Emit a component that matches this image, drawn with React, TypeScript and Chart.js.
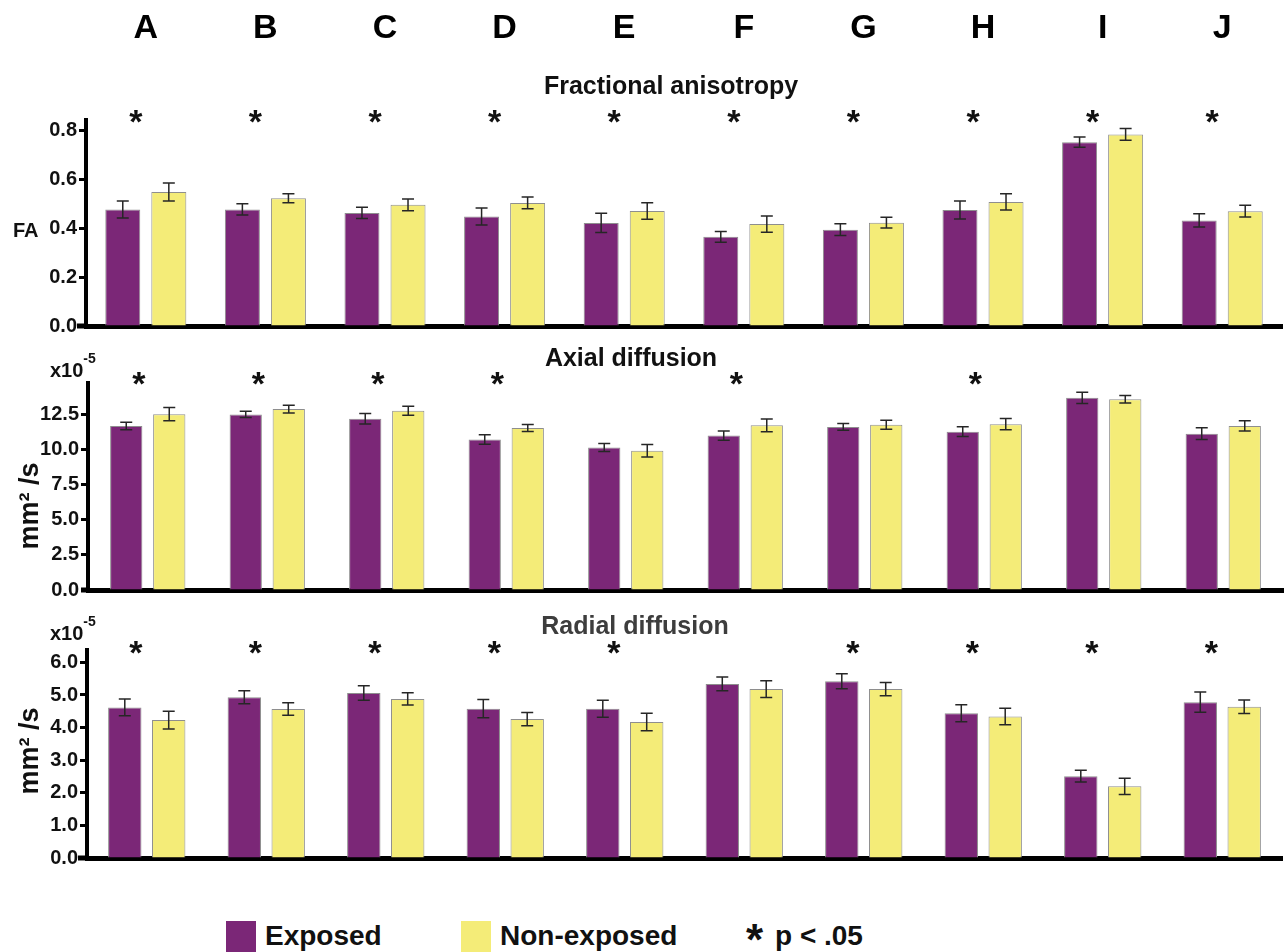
import React, { useEffect, useRef } from 'react';
import { Chart, registerables } from 'chart.js';

Chart.register(...registerables);

// ---------- data ----------
const categories = ['A', 'B', 'C', 'D', 'E', 'F', 'G', 'H', 'I', 'J'];

const faExposed = [0.478, 0.478, 0.464, 0.449, 0.423, 0.366, 0.395, 0.476, 0.754, 0.433];
const faExposedErr = [0.035, 0.023, 0.023, 0.035, 0.039, 0.022, 0.024, 0.037, 0.021, 0.027];
const faNonExposed = [0.55, 0.524, 0.497, 0.505, 0.472, 0.418, 0.424, 0.509, 0.786, 0.471];
const faNonExposedErr = [0.037, 0.018, 0.024, 0.024, 0.034, 0.033, 0.022, 0.033, 0.024, 0.024];
const faSig = [true, true, true, true, true, true, true, true, true, true];

const adExposed = [11.7, 12.52, 12.21, 10.73, 10.16, 11.01, 11.63, 11.29, 13.7, 11.15];
const adExposedErr = [0.27, 0.22, 0.38, 0.34, 0.28, 0.33, 0.24, 0.35, 0.4, 0.42];
const adNonExposed = [12.54, 12.9, 12.78, 11.55, 9.93, 11.74, 11.79, 11.82, 13.6, 11.7];
const adNonExposedErr = [0.48, 0.28, 0.32, 0.25, 0.45, 0.45, 0.32, 0.4, 0.26, 0.36];
const adSig = [true, true, true, true, false, true, false, true, false, false];

const rdExposed = [4.62, 4.93, 5.06, 4.58, 4.58, 5.34, 5.42, 4.44, 2.51, 4.78];
const rdExposedErr = [0.26, 0.2, 0.22, 0.28, 0.26, 0.21, 0.23, 0.26, 0.18, 0.31];
const rdNonExposed = [4.23, 4.57, 4.88, 4.26, 4.17, 5.18, 5.18, 4.34, 2.2, 4.64];
const rdNonExposedErr = [0.27, 0.19, 0.19, 0.2, 0.27, 0.26, 0.2, 0.25, 0.25, 0.21];
const rdSig = [true, true, true, true, true, false, true, true, true, true];

const seriesNames = ['Exposed', 'Non-exposed'];
const sigLabel = 'p < .05';

// ---------- style ----------
const FONT = '"Liberation Sans", Arial, Helvetica, sans-serif';
const PURPLE = '#7b2777';
const YELLOW = '#f4ec78';
const BAR_BORDER = '#8e8e8e';

const errorBarPlugin = {
  id: 'errorBars',
  afterDatasetsDraw(chart: any) {
    const ctx = chart.ctx;
    const yScale = chart.scales.y;
    const cap = 12;
    chart.data.datasets.forEach((ds: any, di: number) => {
      const errs = ds.errors;
      if (!errs) return;
      const meta = chart.getDatasetMeta(di);
      meta.data.forEach((bar: any, i: number) => {
        const v = ds.data[i];
        const e = errs[i];
        const x = bar.x;
        const yt = yScale.getPixelForValue(v + e);
        const yb = yScale.getPixelForValue(v - e);
        ctx.save();
        ctx.strokeStyle = '#262626';
        ctx.lineWidth = 1.5;
        ctx.beginPath();
        ctx.moveTo(x, yt);
        ctx.lineTo(x, yb);
        ctx.moveTo(x - cap / 2, yt);
        ctx.lineTo(x + cap / 2, yt);
        ctx.moveTo(x - cap / 2, yb);
        ctx.lineTo(x + cap / 2, yb);
        ctx.stroke();
        ctx.restore();
      });
    });
  },
};

const decorPlugin = {
  id: 'decor',
  afterDraw(chart: any, _args: any, opts: any) {
    const ctx = chart.ctx;
    const area = chart.chartArea;
    const xs = chart.scales.x;
    ctx.save();
    // extend x axis line to the left
    if (opts.axisLeft != null) {
      ctx.fillStyle = '#000';
      ctx.fillRect(opts.axisLeft, area.bottom - 2.5, area.left - opts.axisLeft, 5);
    }
    // title
    if (opts.title) {
      ctx.font = `bold 25px ${FONT}`;
      ctx.fillStyle = opts.title.color || '#111';
      ctx.textAlign = 'center';
      ctx.textBaseline = 'alphabetic';
      ctx.fillText(opts.title.text, opts.title.x, opts.title.y);
    }
    // significance stars
    if (opts.stars) {
      ctx.font = `bold 34px ${FONT}`;
      ctx.fillStyle = '#111';
      ctx.textAlign = 'center';
      ctx.textBaseline = 'alphabetic';
      const m = ctx.measureText('*');
      const asc = m.actualBoundingBoxAscent;
      const desc = m.actualBoundingBoxDescent;
      const base = opts.starY + (asc - desc) / 2;
      opts.stars.forEach((s: boolean, i: number) => {
        if (!s) return;
        ctx.fillText('*', xs.getPixelForValue(i) + opts.starDx, base);
      });
    }
    // FA label
    if (opts.faLabel) {
      ctx.font = `bold 20px ${FONT}`;
      ctx.fillStyle = '#111';
      ctx.textAlign = 'left';
      ctx.textBaseline = 'alphabetic';
      ctx.fillText(opts.faLabel.text, opts.faLabel.x, opts.faLabel.y);
    }
    // exponent
    if (opts.exponent) {
      ctx.fillStyle = '#111';
      ctx.textAlign = 'left';
      ctx.textBaseline = 'alphabetic';
      ctx.font = `bold 20px ${FONT}`;
      ctx.fillText('x10', opts.exponent.x, opts.exponent.y);
      const w = ctx.measureText('x10').width;
      ctx.font = `bold 14px ${FONT}`;
      ctx.fillText('-5', opts.exponent.x + w, opts.exponent.y - 14);
    }
    // rotated unit label
    if (opts.unit) {
      ctx.translate(opts.unit.x, opts.unit.y);
      ctx.rotate(-Math.PI / 2);
      ctx.font = `bold 27px ${FONT}`;
      ctx.fillStyle = '#111';
      ctx.textAlign = 'center';
      ctx.textBaseline = 'alphabetic';
      ctx.fillText(opts.unit.text, 0, 0);
    }
    ctx.restore();
  },
};

interface PanelSpec {
  top: number;
  height: number;
  padTop: number;
  left: number;
  right: number;
  bottomH: number;
  yMax: number;
  step: number;
  exposed: number[];
  exposedErr: number[];
  nonExposed: number[];
  nonExposedErr: number[];
  catPct: number;
  barPct: number;
  letters: boolean;
  decor: any;
}

function BarPanel({ p }: { p: PanelSpec }) {
  const ref = useRef<HTMLCanvasElement>(null);
  useEffect(() => {
    if (!ref.current) return;
    const scales: any = {
      x: {
        type: 'category',
        position: 'bottom',
        offset: true,
        z: 1,
        grid: { display: true, drawOnChartArea: false, drawTicks: false, offset: true },
        border: { display: true, width: 5, color: '#000' },
        ticks: { display: false },
        afterFit: (s: any) => {
          s.height = p.bottomH;
          s.paddingLeft = 0;
          s.paddingRight = 0;
        },
      },
      y: {
        type: 'linear',
        min: 0,
        max: p.yMax,
        z: 1,
        ticks: {
          stepSize: p.step,
          includeBounds: false,
          padding: 2,
          color: '#111',
          font: { family: FONT, size: 20, weight: 'bold' },
          callback: (v: any) => Number(v).toFixed(1),
        },
        grid: {
          display: true,
          drawOnChartArea: false,
          drawTicks: true,
          tickLength: 7,
          tickWidth: 3,
          tickColor: '#000',
        },
        border: { display: true, width: 4, color: '#000' },
        afterFit: (s: any) => {
          s.width = p.left;
        },
      },
    };
    if (p.letters) {
      scales.xTop = {
        type: 'category',
        position: 'top',
        offset: true,
        labels: categories,
        grid: { display: false, drawTicks: false, offset: true },
        border: { display: false },
        ticks: {
          padding: 71,
          color: '#000',
          autoSkip: false,
          maxRotation: 0,
          font: { family: FONT, size: 34, weight: 'bold' },
        },
        afterFit: (s: any) => {
          s.height = p.padTop;
          s.paddingLeft = 0;
          s.paddingRight = 0;
        },
      };
    }
    const chart = new Chart(ref.current, {
      type: 'bar',
      data: {
        labels: categories,
        datasets: [
          {
            label: seriesNames[0],
            data: p.exposed,
            errors: p.exposedErr,
            backgroundColor: PURPLE,
            borderColor: BAR_BORDER,
            borderWidth: 1,
            categoryPercentage: p.catPct,
            barPercentage: p.barPct,
          } as any,
          {
            label: seriesNames[1],
            data: p.nonExposed,
            errors: p.nonExposedErr,
            backgroundColor: YELLOW,
            borderColor: BAR_BORDER,
            borderWidth: 1,
            categoryPercentage: p.catPct,
            barPercentage: p.barPct,
          } as any,
        ],
      },
      options: {
        responsive: false,
        animation: false,
        devicePixelRatio: 1,
        layout: {
          padding: { top: p.letters ? 0 : p.padTop, left: 0, right: 1286 - p.right, bottom: 0 },
        },
        plugins: {
          legend: { display: false },
          tooltip: { enabled: false },
          title: { display: false },
          decor: p.decor,
        } as any,
        scales,
      },
      plugins: [errorBarPlugin, decorPlugin],
    });
    return () => chart.destroy();
  }, []);
  return (
    <canvas
      ref={ref}
      width={1286}
      height={p.height}
      style={{ position: 'absolute', left: 0, top: p.top, width: 1286, height: p.height }}
    />
  );
}

const panels: PanelSpec[] = [
  {
    top: 0,
    height: 340,
    padTop: 120,
    left: 86,
    right: 1282,
    bottomH: 13,
    yMax: 0.845,
    step: 0.2,
    exposed: faExposed,
    exposedErr: faExposedErr,
    nonExposed: faNonExposed,
    nonExposedErr: faNonExposedErr,
    catPct: 0.77,
    barPct: 0.76,
    letters: true,
    decor: {
      axisLeft: 77,
      title: { text: 'Fractional anisotropy', x: 671, y: 94 },
      stars: faSig,
      starY: 116,
      starDx: -10,
      faLabel: { text: 'FA', x: 13, y: 237 },
    },
  },
  {
    top: 340,
    height: 264,
    padTop: 43,
    left: 88,
    right: 1283,
    bottomH: 13,
    yMax: 14.76,
    step: 2.5,
    exposed: adExposed,
    exposedErr: adExposedErr,
    nonExposed: adNonExposed,
    nonExposedErr: adNonExposedErr,
    catPct: 0.72,
    barPct: 0.75,
    letters: false,
    decor: {
      axisLeft: 81,
      title: { text: 'Axial diffusion', x: 631, y: 26 },
      stars: adSig,
      starY: 38,
      starDx: -9,
      exponent: { x: 50, y: 37 },
      unit: { text: 'mm² /s', x: 38, y: 166 },
    },
  },
  {
    top: 604,
    height: 268,
    padTop: 46,
    left: 87,
    right: 1282,
    bottomH: 13,
    yMax: 6.38,
    step: 1,
    exposed: rdExposed,
    exposedErr: rdExposedErr,
    nonExposed: rdNonExposed,
    nonExposedErr: rdNonExposedErr,
    catPct: 0.735,
    barPct: 0.76,
    letters: false,
    decor: {
      axisLeft: 78,
      title: { text: 'Radial diffusion', x: 635, y: 30, color: '#3d3d3d' },
      stars: rdSig,
      starY: 43.5,
      starDx: -11,
      exponent: { x: 50, y: 36 },
      unit: { text: 'mm² /s', x: 38, y: 147 },
    },
  },
];

const legendText: React.CSSProperties = {
  position: 'absolute',
  top: 922,
  fontFamily: FONT,
  fontWeight: 'bold',
  fontSize: 28,
  lineHeight: '28px',
  color: '#111',
  whiteSpace: 'nowrap',
};

export default function App() {
  return (
    <div
      style={{
        position: 'fixed',
        left: 0,
        top: 0,
        width: 1286,
        height: 952,
        background: '#fff',
        overflow: 'hidden',
      }}
    >
      {panels.map((p, i) => (
        <BarPanel key={i} p={p} />
      ))}
      <div style={{ position: 'absolute', left: 226, top: 921, width: 30, height: 31, background: PURPLE }} />
      <div style={{ ...legendText, left: 265 }}>{seriesNames[0]}</div>
      <div style={{ position: 'absolute', left: 461, top: 921, width: 30, height: 31, background: YELLOW }} />
      <div style={{ ...legendText, left: 500 }}>{seriesNames[1]}</div>
      <div style={{ ...legendText, left: 746, top: 918, fontSize: 44, lineHeight: '44px' }}>*</div>
      <div style={{ ...legendText, left: 775 }}>{sigLabel}</div>
    </div>
  );
}
